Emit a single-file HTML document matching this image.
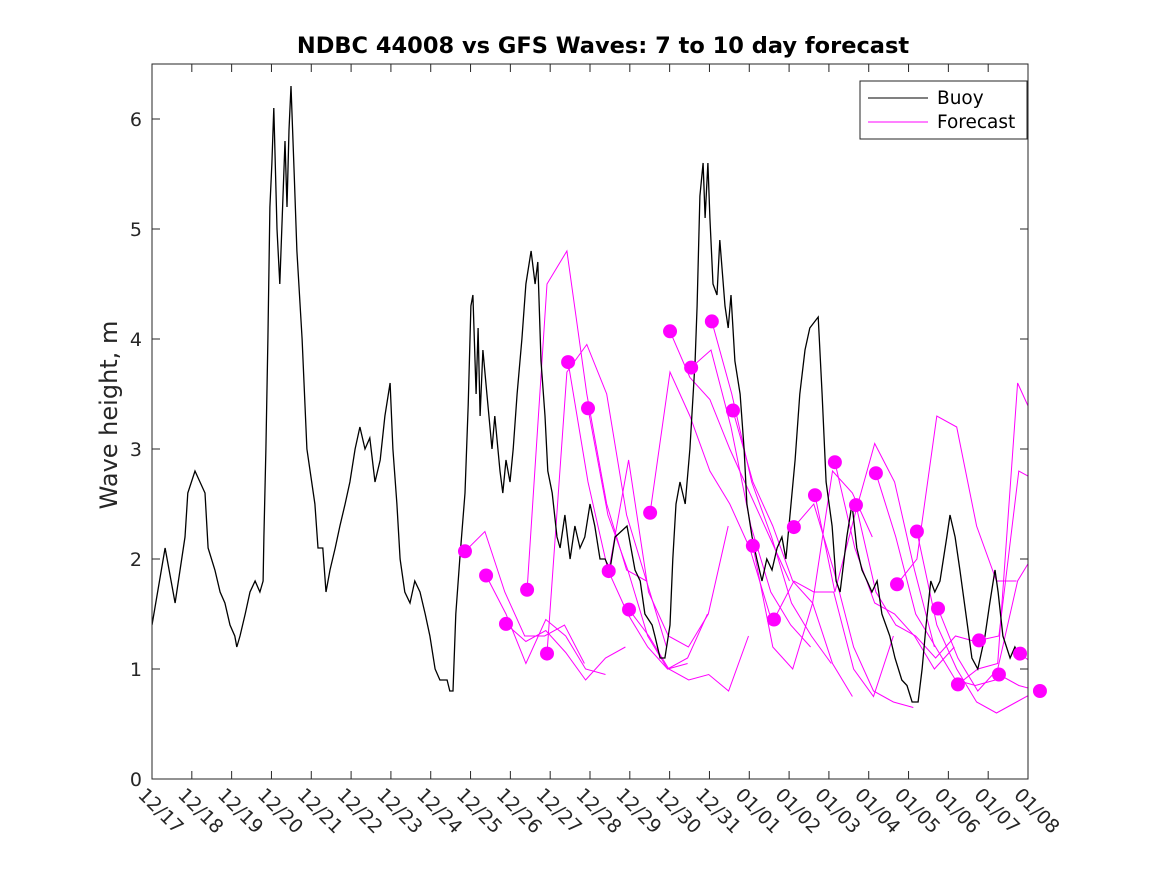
<!DOCTYPE html>
<html><head><meta charset="utf-8"><style>
body{margin:0;background:#fff}
svg{display:block;font-family:"DejaVu Sans","Liberation Sans",sans-serif}
</style></head><body>
<svg id="chart" width="1167" height="875" viewBox="0 0 1167 875" xmlns="http://www.w3.org/2000/svg">
<defs><clipPath id="plotclip"><rect x="152" y="64" width="876" height="715"/></clipPath></defs>
<rect x="0" y="0" width="1167" height="875" fill="#fff"/>
<text x="603" y="53" text-anchor="middle" font-size="22.5" font-weight="bold">NDBC 44008 vs GFS Waves: 7 to 10 day forecast</text>
<text transform="translate(117,415) rotate(-90)" text-anchor="middle" font-size="24" fill="#262626">Wave height, m</text>
<g id="axes"></g>
<g id="series" clip-path="url(#plotclip)"></g>
<g id="dots"></g>
<rect x="152" y="64" width="876" height="715" fill="none" stroke="#262626" stroke-width="1"/>
<g>
<rect x="860" y="81" width="167" height="58" fill="#fff" stroke="#262626"/>
<line x1="868" y1="98" x2="928" y2="98" stroke="#000"/>
<text x="937" y="104" font-size="18.5">Buoy</text>
<line x1="868" y1="122" x2="928" y2="122" stroke="#f0f"/>
<text x="937" y="128" font-size="18.5">Forecast</text>
</g>
</svg>
<script>
const xTickLabels=["12/17","12/18","12/19","12/20","12/21","12/22","12/23","12/24","12/25","12/26","12/27","12/28","12/29","12/30","12/31","01/01","01/02","01/03","01/04","01/05","01/06","01/07","01/08"];
const yTicks=[0,1,2,3,4,5,6];
const buoyDays=[0,0.33,0.58,0.83,0.90,1.08,1.33,1.41,1.58,1.71,1.83,1.96,2.08,2.13,2.21,2.34,2.46,2.59,2.71,2.79,2.81,2.86,2.91,2.96,3.01,3.06,3.14,3.21,3.34,3.39,3.44,3.49,3.57,3.64,3.77,3.89,3.97,4.09,4.17,4.29,4.37,4.47,4.60,4.72,4.85,4.97,5.10,5.22,5.35,5.47,5.60,5.73,5.85,5.98,6.05,6.15,6.23,6.35,6.48,6.60,6.73,6.86,6.98,7.11,7.23,7.41,7.48,7.56,7.63,7.73,7.86,7.94,8.01,8.06,8.14,8.19,8.24,8.31,8.41,8.54,8.61,8.74,8.81,8.89,8.99,9.07,9.17,9.29,9.39,9.52,9.62,9.69,9.77,9.87,9.94,10.05,10.17,10.25,10.37,10.50,10.62,10.75,10.87,11.00,11.12,11.25,11.38,11.50,11.63,11.93,12.13,12.26,12.38,12.56,12.63,12.76,12.88,13.01,13.08,13.16,13.26,13.39,13.51,13.64,13.69,13.76,13.84,13.89,13.96,14.01,14.09,14.19,14.26,14.39,14.47,14.54,14.64,14.77,14.87,14.94,15.07,15.19,15.32,15.44,15.57,15.70,15.82,15.92,16.15,16.27,16.40,16.52,16.73,16.83,16.93,17.08,17.18,17.28,17.45,17.58,17.70,17.83,17.96,18.08,18.21,18.33,18.53,18.66,18.83,18.96,19.09,19.24,19.34,19.44,19.56,19.66,19.79,19.96,20.04,20.17,20.29,20.44,20.59,20.74,20.92,21.04,21.17,21.25,21.37,21.55,21.67,21.80,21.92];
const buoyValues=[1.4,2.1,1.6,2.2,2.6,2.8,2.6,2.1,1.9,1.7,1.6,1.4,1.3,1.2,1.3,1.5,1.7,1.8,1.7,1.8,2.2,3.0,4.0,5.2,5.6,6.1,5.0,4.5,5.8,5.2,5.9,6.3,5.5,4.8,4.0,3.0,2.8,2.5,2.1,2.1,1.7,1.9,2.1,2.3,2.5,2.7,3.0,3.2,3.0,3.1,2.7,2.9,3.3,3.6,3.0,2.5,2.0,1.7,1.6,1.8,1.7,1.5,1.3,1.0,0.9,0.9,0.8,0.8,1.5,2.0,2.6,3.4,4.3,4.4,3.5,4.1,3.3,3.9,3.5,3.0,3.3,2.8,2.6,2.9,2.7,3.0,3.5,4.0,4.5,4.8,4.5,4.7,3.8,3.3,2.8,2.6,2.2,2.1,2.4,2.0,2.3,2.1,2.2,2.5,2.3,2.0,2.0,1.9,2.2,2.3,1.9,1.8,1.5,1.4,1.3,1.1,1.1,1.4,2.0,2.5,2.7,2.5,3.0,3.8,4.3,5.3,5.6,5.1,5.6,5.1,4.5,4.4,4.9,4.3,4.1,4.4,3.8,3.5,3.0,2.5,2.2,2.0,1.8,2.0,1.9,2.1,2.2,2.0,2.9,3.5,3.9,4.1,4.2,3.5,2.7,2.3,1.8,1.7,2.2,2.5,2.1,1.9,1.8,1.7,1.8,1.5,1.3,1.1,0.9,0.85,0.7,0.7,1.0,1.4,1.8,1.7,1.8,2.2,2.4,2.2,1.9,1.5,1.1,1.0,1.3,1.6,1.9,1.7,1.3,1.1,1.2,1.1,1.15];
const fcStartDays=[7.86,8.39,8.89,9.42,9.92,10.45,10.95,11.47,11.98,12.51,13.01,13.54,14.06,14.59,15.09,15.62,16.12,16.65,17.15,17.68,18.18,18.71,19.21,19.74,20.24,20.77,21.27,21.80,22.30];
const fcValues=[
[2.07,2.25,1.7,1.3,1.3,1.4,1.05],
[1.85,1.5,1.05,1.45,1.3,1.0,0.95],
[1.41,1.25,1.35,1.15,0.9,1.1,1.2],
[1.72,4.5,4.8,3.5,2.5,1.9,1.8],
[1.14,3.7,3.95,3.5,2.4,1.8,1.2],
[3.79,2.7,1.9,1.5,1.2,1.0,1.05],
[3.37,2.4,1.9,1.3,1.0,1.1,1.5],
[1.89,2.9,1.7,1.3,1.2,1.5,2.3],
[1.54,1.3,1.0,0.9,0.95,0.8,1.3],
[2.42,3.7,3.3,2.8,2.5,2.1,1.5],
[4.07,3.65,3.45,3.0,2.6,2.2,1.8],
[3.74,3.9,3.2,2.3,1.7,1.4,1.2],
[4.16,3.5,2.7,2.2,1.6,1.3,1.05],
[3.35,2.7,2.3,1.8,1.6,1.05,0.75],
[2.12,1.2,1.0,1.6,2.8,2.6,2.2],
[1.45,1.8,1.7,1.7,1.0,0.75,1.3],
[2.29,2.5,1.9,1.2,0.8,0.7,0.65],
[2.58,1.7,2.4,3.05,2.7,1.9,1.2],
[2.88,2.1,1.6,1.5,1.3,1.0,1.2],
[2.49,1.7,1.4,1.3,1.1,1.3,1.25],
[2.78,2.2,1.5,1.2,0.9,0.85,0.9],
[1.77,2.0,3.3,3.2,2.3,1.8,1.8],
[2.25,1.4,1.0,0.7,0.6,0.7,0.8],
[1.55,1.1,0.8,1.0,1.8,2.1,2.1],
[0.86,1.0,1.05,3.6,3.2,3.3,2.6],
[1.26,1.3,2.8,2.7,2.2,2.0,1.6],
[0.95,0.85,0.8,1.8,4.35,4.3,4.2],
[1.14,1.0,1.8,1.4,1.05,1.0,1.0],
[0.8,0.8,0.8,0.8,0.8,0.8,0.8]
];
const fcStep=0.5;
const X0=152,X1=1028,Y0=779,Y1=64,DAYS=22,YMAX=6.5;
const xs=d=>X0+d*(X1-X0)/DAYS;
const ys=v=>Y0-v*(Y0-Y1)/YMAX;
const NS="http://www.w3.org/2000/svg";
const axes=document.getElementById('axes');
function mk(tag,attrs,parent){const e=document.createElementNS(NS,tag);for(const k in attrs)e.setAttribute(k,attrs[k]);parent.appendChild(e);return e;}
xTickLabels.forEach((lab,i)=>{
  const x=xs(i);
  const t1=mk('line',{x1:x,y1:Y0,x2:x,y2:Y0-8,stroke:'#262626'},axes);
  
  
  const t2=mk('line',{x1:x,y1:Y1,x2:x,y2:Y1+8,stroke:'#262626'},axes);
  
  
  const tx=mk('text',{transform:`translate(${x-15},${Y0+17}) rotate(45)`,'font-size':19,fill:'#262626'},axes);
  tx.textContent=lab;
  
  
});
yTicks.forEach(v=>{
  const y=ys(v);
  const t1=mk('line',{x1:X0,y1:y,x2:X0+8,y2:y,stroke:'#262626'},axes);
  
  
  const t2=mk('line',{x1:X1,y1:y,x2:X1-8,y2:y,stroke:'#262626'},axes);
  
  
  const tx=mk('text',{x:X0-10,y:y+7,'text-anchor':'end','font-size':19,fill:'#262626'},axes);
  tx.textContent=v;
  
  
});
const series=document.getElementById('series');
const dots=document.getElementById('dots');
fcValues.forEach((vals,i)=>{
  const s=fcStartDays[i];
  const pts=vals.map((v,j)=>xs(s+j*fcStep).toFixed(1)+','+ys(v).toFixed(1)).join(' ');
  const pl=mk('polyline',{points:pts,fill:'none',stroke:'#f0f','stroke-width':1},series);
  
  
});
const bp=buoyDays.map((d,i)=>xs(d).toFixed(1)+','+ys(buoyValues[i]).toFixed(1)).join(' ');
const bl=mk('polyline',{points:bp,fill:'none',stroke:'#000','stroke-width':1.3},series);


fcValues.forEach((vals,i)=>{
  const c=mk('circle',{cx:xs(fcStartDays[i]),cy:ys(vals[0]),r:7,fill:'#f0f'},dots);
  
  
});
</script>
</body></html>
